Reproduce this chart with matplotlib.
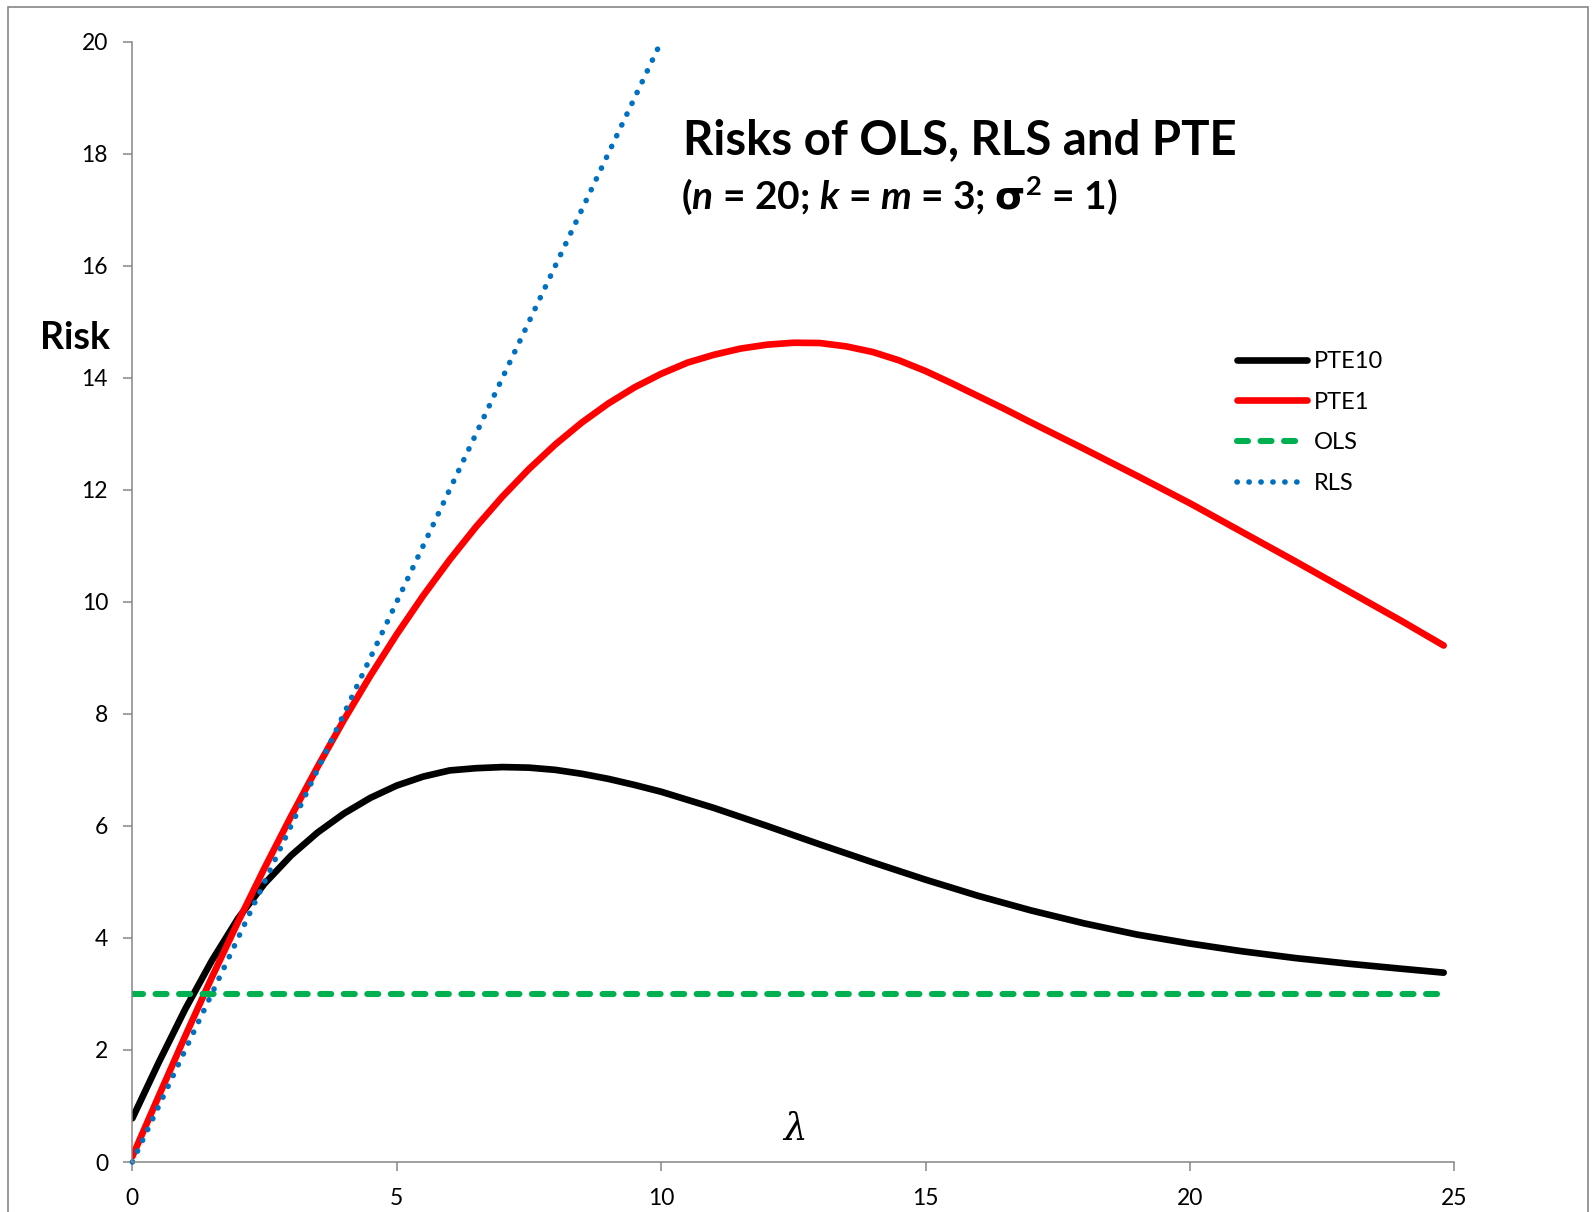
import matplotlib
matplotlib.use("Agg")
import matplotlib.pyplot as plt
from matplotlib.patches import Rectangle

plt.rcParams["font.family"] = ["Lato", "DejaVu Sans"]
plt.rcParams["mathtext.fontset"] = "custom"
plt.rcParams["mathtext.rm"] = "Lato:bold"
plt.rcParams["mathtext.it"] = "Lato:bold:italic"
plt.rcParams["mathtext.bf"] = "Lato:bold"
plt.rcParams["mathtext.sf"] = "DejaVu Sans:bold"  # Lato has no Greek sigma

# ---------------------------------------------------------------------------
# data
# ---------------------------------------------------------------------------
lam_pte10 = [0, 0.5, 1.0, 1.5, 2.0, 2.5, 3.0, 3.5, 4.0, 4.5, 5.0, 5.5, 6.0, 6.5,
             7.0, 7.5, 8.0, 8.5, 9.0, 9.5, 10, 11, 12, 13, 14, 15, 16, 17, 18,
             19, 20, 21, 22, 23, 24, 24.8]
risk_pte10 = [0.78, 1.78, 2.73, 3.59, 4.35, 4.97, 5.47, 5.88, 6.22, 6.50, 6.72,
              6.88, 6.99, 7.03, 7.05, 7.04, 7.00, 6.93, 6.84, 6.73, 6.61, 6.32,
              6.00, 5.67, 5.35, 5.04, 4.75, 4.49, 4.26, 4.06, 3.90, 3.76, 3.64,
              3.54, 3.45, 3.38]

lam_pte1 = [0, 0.5, 1.0, 1.5, 2.0, 2.5, 3.0, 3.5, 4.0, 4.5, 5.0, 5.5, 6.0, 6.5,
            7.0, 7.5, 8.0, 8.5, 9.0, 9.5, 10, 10.5, 11, 11.5, 12, 12.5, 13, 13.5,
            14, 14.5, 15, 15.5, 16, 16.5, 17, 18, 19, 20, 21, 22, 23, 24, 24.8]
risk_pte1 = [0.10, 1.18, 2.25, 3.29, 4.29, 5.25, 6.17, 7.05, 7.89, 8.68, 9.42,
             10.11, 10.75, 11.34, 11.88, 12.37, 12.81, 13.20, 13.54, 13.83, 14.07,
             14.27, 14.41, 14.52, 14.59, 14.625, 14.62, 14.56, 14.46, 14.31,
             14.12, 13.90, 13.67, 13.44, 13.20, 12.73, 12.25, 11.76, 11.24, 10.72,
             10.19, 9.66, 9.22]

lam_ols = [0, 24.8]
risk_ols = [3, 3]

lam_rls = [0, 5, 10]
risk_rls = [0, 10, 20]

x_ticks = [0, 5, 10, 15, 20, 25]
y_ticks = [0, 2, 4, 6, 8, 10, 12, 14, 16, 18, 20]

GREY = "#868686"

fig = plt.figure(figsize=(15.93, 12.12), dpi=100)
fig.patches.append(Rectangle((8 / 1593, -0.1), 1580 / 1593, 1.1 - 7 / 1212,
                             transform=fig.transFigure, fill=False,
                             edgecolor=GREY, linewidth=1.2))

ax = fig.add_axes([0.0831, 0.04125, 0.8298, 0.9244])

ax.plot(lam_pte10, risk_pte10, color="#000000", lw=4.8, solid_capstyle="round",
        solid_joinstyle="round", label="PTE10")
ax.plot(lam_pte1, risk_pte1, color="#FF0000", lw=4.8, solid_capstyle="round",
        solid_joinstyle="round", label="PTE1")
ax.plot(lam_ols, risk_ols, color="#00B050", lw=4.4, dash_capstyle="round",
        dashes=(1.8, 2.05), label="OLS")
ax.plot(lam_rls, risk_rls, color="#0070C0", lw=4.0, dash_capstyle="round",
        dashes=(0.05, 2.1), label="RLS", clip_on=False)

ax.set_xlim(0, 25)
ax.set_ylim(0, 20)
ax.set_xticks(x_ticks)
ax.set_yticks(y_ticks)

for side in ["top", "right"]:
    ax.spines[side].set_visible(False)
for side in ["left", "bottom"]:
    ax.spines[side].set_color(GREY)
    ax.spines[side].set_linewidth(1.1)

ax.tick_params(axis="both", direction="out", length=6.5, width=1.1, color=GREY,
               labelsize=16.5, labelcolor="black")
ax.tick_params(axis="y", pad=11)
ax.tick_params(axis="x", pad=12)

ax.text(10.41, 18.0, "Risks of OLS, RLS and PTE", fontsize=34, fontweight="bold",
        ha="left", va="baseline")
ax.text(10.37, 17.01, r"($n$ = 20; $k$ = $m$ = 3; $\mathsf{\sigma}^{\mathrm{2}}$ = 1)",
        fontsize=28, fontweight="bold", ha="left", va="baseline")
ax.text(-1.745, 14.52, "Risk", fontsize=27, fontweight="bold", ha="left",
        va="baseline", clip_on=False)
ax.text(12.53, 0.39, "λ", fontsize=27, family="DejaVu Serif", style="italic",
        ha="center", va="baseline")

leg = ax.legend(loc="upper left", bbox_to_anchor=(1237 / 1593, 1 - 351 / 1212),
                bbox_transform=fig.transFigure, frameon=False, fontsize=17,
                handlelength=2.95, handletextpad=0.3, labelspacing=0.83,
                borderpad=0, borderaxespad=0)

fig.savefig("out.png", dpi=100)
